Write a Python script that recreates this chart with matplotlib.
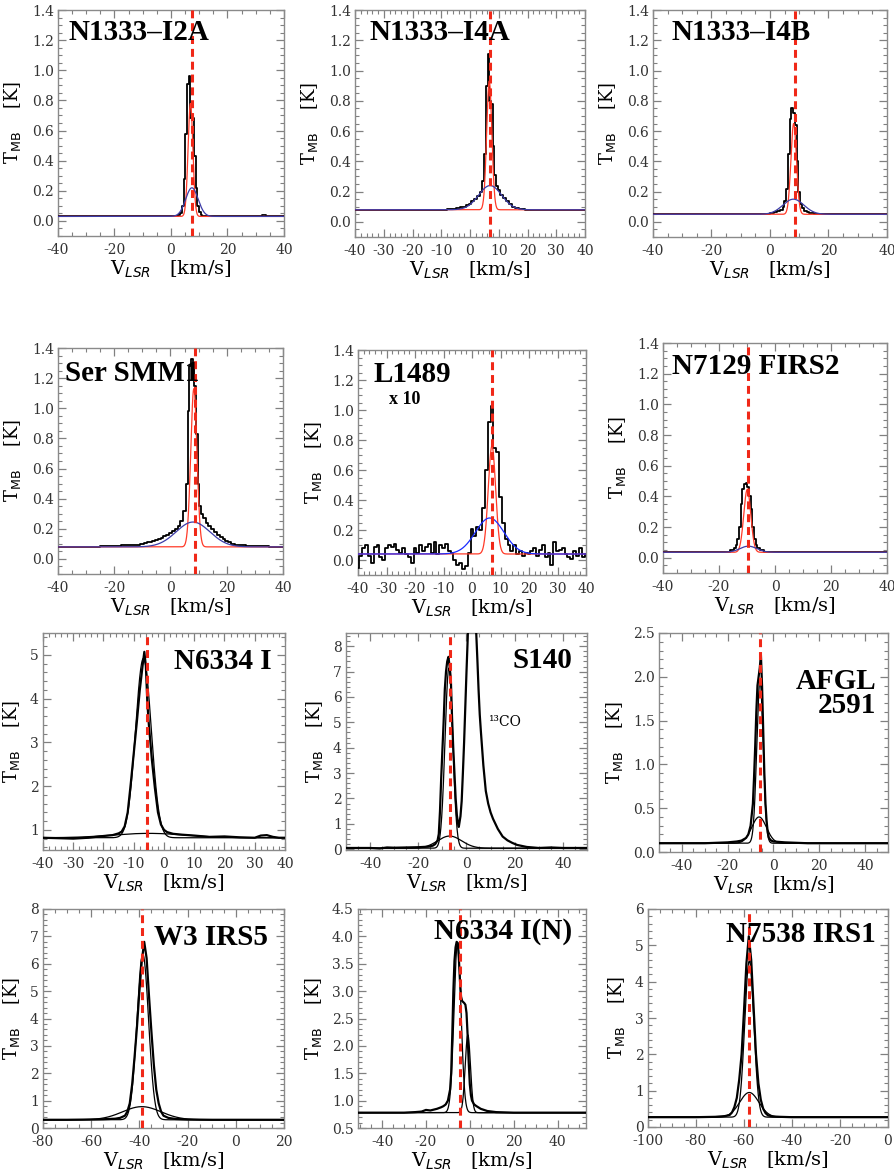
import numpy as np
import matplotlib.pyplot as plt
from matplotlib.ticker import MultipleLocator, AutoMinorLocator, FormatStrFormatter

plt.rcParams.update({
    'font.family': 'DejaVu Serif',
    'axes.unicode_minus': False,
    'mathtext.fontset': 'custom',
    'mathtext.rm': 'DejaVu Serif',
    'mathtext.it': 'DejaVu Sans:italic',
    'mathtext.sf': 'DejaVu Sans',
    'mathtext.bf': 'DejaVu Serif:bold',
})

# ---- spectra (velocity [km/s], T_MB [K]) ----
i2a_v = [-40, 2.0, 3.0, 3.6, 4.2, 4.8, 5.4, 6.0, 6.6, 7.2, 7.8, 8.4, 9.0, 9.6, 10.2, 10.8, 11.4, 12.5, 30, 31.5, 33, 34.5, 40]
i2a_t = [0.03, 0.03, 0.04, 0.05, 0.1, 0.28, 0.58, 0.91, 0.96, 0.68, 0.68, 0.43, 0.22, 0.1, 0.06, 0.04, 0.035, 0.03, 0.03, 0.035, 0.04, 0.03, 0.03]

i4a_v = [-40, -10, -6, -4, -3, -2, -1, 0, 1, 2, 3, 4, 4.6, 5.2, 5.8, 6.4, 7.0, 7.6, 8.2, 8.8, 9.4,
         10, 11, 12, 13, 14, 15, 16, 18, 20, 40]
i4a_t = [0.08, 0.08, 0.085, 0.09, 0.095, 0.1, 0.11, 0.12, 0.135, 0.15, 0.17, 0.2, 0.27, 0.45, 0.9, 1.11, 0.8, 0.78, 0.5, 0.31, 0.24,
         0.21, 0.18, 0.155, 0.135, 0.115, 0.1, 0.09, 0.085, 0.08, 0.08]

i4b_v = [-40, -5, -1, 1, 2, 3, 4, 4.6, 5.2, 5.8, 6.4, 7.0, 7.6, 8.2, 8.8, 9.4, 10.0, 10.6, 11.2, 12, 13, 14, 16, 19, 40]
i4b_t = [0.05, 0.05, 0.055, 0.06, 0.065, 0.07, 0.08, 0.1, 0.14, 0.22, 0.45, 0.68, 0.75, 0.72, 0.64, 0.4, 0.2, 0.12, 0.09, 0.075, 0.065, 0.06, 0.055, 0.05, 0.05]

ser_v = [-40, -30, -20, -15, -12, -10, -9, -8, -7, -6, -5, -4, -3, -2, -1, 0, 1, 2, 3, 4,
         5.2, 5.8, 6.4, 7.0, 7.6, 8.2, 8.8, 9.4, 10.0, 10.6, 11.2,
         12, 13, 14, 15, 16, 17, 18, 19, 20, 21, 22, 24, 26, 28, 30, 40]
ser_t = [0.08, 0.08, 0.085, 0.09, 0.095, 0.1, 0.105, 0.11, 0.115, 0.12, 0.125, 0.13, 0.14, 0.15, 0.16, 0.17, 0.185, 0.2, 0.22, 0.25,
         0.32, 0.5, 0.98, 1.28, 1.33, 1.3, 1.15, 0.83, 0.5, 0.35, 0.3,
         0.27, 0.24, 0.22, 0.2, 0.18, 0.16, 0.145, 0.13, 0.12, 0.11, 0.1, 0.095, 0.09, 0.085, 0.085, 0.08]

l1489_v = list(range(-40, 41))
l1489_t = [-0.05, 0.03, 0.08, 0.1, 0.03, -0.02, 0.09, 0.1, 0.02, 0.0,
           0.08, 0.1, 0.09, 0.11, 0.07, 0.05, 0.08, 0.04, 0.02, -0.02,
           0.08, 0.05, 0.1, 0.06, 0.09, 0.11, 0.05, 0.12, 0.04, 0.1,
           0.08, 0.11, 0.06, 0.05, 0.0, -0.03, -0.02, -0.06, -0.04, 0.05,
           0.21, 0.16, 0.22, 0.2, 0.35, 0.6, 0.92, 1.03, 0.75, 0.72,
           0.42, 0.25, 0.14, 0.1, 0.06, 0.1, 0.04, 0.06, 0.03, 0.05,
           0.04, 0.06, 0.08, 0.03, 0.07, 0.1, 0.02, 0.05, -0.03, 0.12,
           0.06, 0.07, 0.08, 0.04, 0.02, 0.01, 0.06, 0.03, 0.08, 0.02, 0.04]

n7129_v = [-40, -20, -17, -15, -14.4, -13.8, -13.2, -12.6, -12.0, -11.4, -10.8, -10.2, -9.6, -9.0, -8.4, -7.8, -7.2, -6.6, -6.0, -5, -3, 0, 40]
n7129_t = [0.035, 0.035, 0.04, 0.05, 0.06, 0.08, 0.12, 0.2, 0.35, 0.45, 0.48, 0.49, 0.46, 0.4, 0.32, 0.2, 0.12, 0.08, 0.06, 0.05, 0.04, 0.035, 0.035]

n6334_v = [-40, -35, -30, -25, -20, -17, -15, -14, -13, -12, -11, -10, -9, -8, -7, -6.5, -6, -5.5, -5, -4,
           -3, -2, -1, 0, 1, 3, 6, 10, 15, 20, 25, 30, 32, 34, 36, 38, 40]
n6334_t = [0.82, 0.81, 0.8, 0.82, 0.86, 0.88, 0.92, 0.96, 1.08, 1.4, 2.05, 2.75, 3.45, 4.2, 4.8, 5.07, 4.75, 3.9, 3.4, 2.6,
           1.95, 1.4, 1.12, 1.0, 0.95, 0.91, 0.89, 0.87, 0.84, 0.85, 0.83, 0.82, 0.87, 0.88, 0.84, 0.82, 0.82]

s140_v = [-50, -40, -36, -33, -30, -25, -20, -16, -14, -13,
          -12, -11.5, -11, -10.5, -10, -9.5, -9, -8.5, -8, -7.5,
          -7, -6.5, -6, -5.5, -5, -4.5, -4, -3.5, -3.2, -2.5,
          -2, -1.5, -1, -0.5, 0, 0.5, 1, 2, 3, 4,
          4.5, 5, 5.5, 6, 7, 8, 9, 10, 11, 12,
          13, 15, 17, 19, 21, 25, 30, 35, 40, 50]
s140_t = [0.05, 0.05, 0.03, 0.07, 0.06, 0.07, 0.08, 0.1, 0.14, 0.2,
          0.35, 0.6, 1.5, 2.8, 3.9, 5.0, 6.3, 7.0, 7.4, 7.58,
          7.2, 6.7, 5.2, 4.0, 3.0, 2.0, 1.35, 1.0, 0.88, 1.3,
          1.9, 3.0, 4.2, 5.6, 7.0, 8.3, 10.0, 11.0, 10.5, 8.6,
          7.5, 6.3, 5.3, 4.6, 3.3, 2.3, 1.8, 1.45, 1.2, 1.0,
          0.8, 0.5, 0.35, 0.25, 0.17, 0.09, 0.05, 0.07, 0.05, 0.05]

afgl_v = [-50, -40, -30, -20, -16, -14, -12, -11, -10, -9, -8.5, -8, -7.5, -7, -6.5, -6, -5.5, -5, -4.5, -4,
          -3.5, -3, -2.5, -2, -1, 0, 5, 15, 30, 50]
afgl_t = [0.1, 0.1, 0.1, 0.11, 0.12, 0.13, 0.16, 0.2, 0.3, 0.55, 0.85, 1.2, 1.6, 1.9, 2.0, 2.1, 2.25, 1.9, 1.4, 0.9,
          0.55, 0.35, 0.22, 0.16, 0.13, 0.12, 0.11, 0.1, 0.1, 0.1]

w3_v = [-80, -70, -60, -55, -50, -48, -46, -45, -44, -43, -42, -41, -40, -39, -38, -37, -36, -35, -34, -33,
        -32, -31, -30, -28, -25, -20, -10, 0, 10, 20]
w3_t = [0.3, 0.3, 0.31, 0.32, 0.34, 0.37, 0.45, 0.6, 0.9, 1.6, 2.6, 3.7, 5.0, 6.1, 6.8, 6.2, 4.8, 3.5, 2.3, 1.4,
        0.9, 0.6, 0.45, 0.37, 0.33, 0.31, 0.3, 0.3, 0.3, 0.3]

n6334n_v = [-51, -40, -30, -25, -22, -20, -18, -15, -13, -12, -11, -10, -9, -8.5, -8, -7.5, -7, -6.5, -6, -5.5,
            -5, -4.5, -4, -3.5, -3, -2.5, -2, -1.5, -1, -0.5, 0, 0.5, 1, 2, 3, 5, 8, 12, 20, 35, 53]
n6334n_t = [0.78, 0.78, 0.78, 0.79, 0.8, 0.83, 0.82, 0.85, 0.88, 0.9, 0.93, 1.0, 1.2, 1.5, 2.2, 3.0, 3.55, 3.8, 3.9, 3.88,
            3.6, 3.2, 2.9, 2.82, 2.8, 2.78, 2.75, 2.6, 2.2, 1.7, 1.3, 1.1, 1.0, 0.93, 0.9, 0.85, 0.81, 0.79, 0.78, 0.78, 0.78]

n7538_v = [-100, -90, -80, -72, -68, -66, -65, -64, -63, -62, -61, -60, -59, -58, -57, -56, -55, -54, -53, -52,
           -51, -50, -48, -45, -40, -30, -20, -10, 0]
n7538_t = [0.27, 0.27, 0.27, 0.28, 0.3, 0.33, 0.4, 0.55, 0.8, 1.3, 2.0, 3.2, 4.5, 5.25, 4.6, 3.3, 2.0, 1.2, 0.75, 0.5,
           0.38, 0.32, 0.29, 0.28, 0.27, 0.27, 0.27, 0.27, 0.27]

# ---- gaussian fit components: (amplitude, centre, sigma) on top of baseline ----
i2a_fit = [(0.75, 6.9, 0.85), (0.19, 7.4, 2.2)]
i4a_fit = [(0.85, 6.7, 0.9), (0.16, 7.0, 4.0)]
i4b_fit = [(0.60, 8.1, 0.95), (0.10, 8.0, 3.6)]
ser_fit = [(1.05, 8.3, 1.1), (0.165, 8.0, 6.0)]
l1489_fit = [(0.72, 7.0, 1.3), (0.24, 6.2, 5.0)]
n7129_fit = [(0.41, -9.9, 1.25), (0.04, -9.5, 3.0)]
n6334_fit = [(4.1, -6.8, 2.6), (0.10, -5.0, 12.0)]
s140_fit = [(7.1, -7.3, 1.6), (0.48, -7.0, 5.0)]
afgl_fit = [(1.85, -5.9, 1.4), (0.30, -6.3, 3.2)]
w3_fit = [(6.05, -38.6, 2.4), (0.48, -39.0, 8.0)]
n6334n_fit = [(3.1, -5.6, 1.6), (1.42, -0.9, 1.2)]
n7538_fit = [(4.3, -57.8, 1.9), (0.68, -57.8, 4.0)]

names = ['N1333\u2013I2A', 'N1333\u2013I4A', 'N1333\u2013I4B', 'Ser SMM1', 'L1489', 'N7129 FIRS2',
         'N6334 I', 'S140', 'AFGL\n2591', 'W3 IRS5', 'N6334 I(N)', 'N7538 IRS1']
baselines = [0.03, 0.08, 0.05, 0.08, 0.04, 0.035, 0.82, 0.04, 0.1, 0.3, 0.78, 0.27]
vsys = [7.5, 7.0, 8.7, 8.6, 7.1, -9.7, -5.5, -6.7, -6.0, -38.9, -4.5, -57.8]

red, navy, blue = '#ff3a28', '#3c3ca8', '#1a2cff'

panels = [
    # spectrum, fits, fit colours, xlim, xstep, ylim, ystep, yfmt, steps, box(px), name pos, align
    (i2a_v, i2a_t, i2a_fit, [red, navy], (-40, 40), 20, (-0.1, 1.4), 0.2, '%.1f', True, (58, 284, 10, 236), (0.045, 0.90), 'left'),
    (i4a_v, i4a_t, i4a_fit, [red, navy], (-40, 40), 10, (-0.1, 1.4), 0.2, '%.1f', True, (355, 585, 10, 237), (0.065, 0.90), 'left'),
    (i4b_v, i4b_t, i4b_fit, [red, navy], (-40, 40), 20, (-0.1, 1.4), 0.2, '%.1f', True, (653, 887, 10, 237), (0.08, 0.90), 'left'),
    (ser_v, ser_t, ser_fit, [red, navy], (-40, 40), 20, (-0.1, 1.4), 0.2, '%.1f', True, (58, 283, 348, 574), (0.03, 0.885), 'left'),
    (l1489_v, l1489_t, l1489_fit, [red, blue], (-40, 40), 10, (-0.1, 1.4), 0.2, '%.1f', True, (358, 586, 350, 575), (0.066, 0.89), 'left'),
    (n7129_v, n7129_t, n7129_fit, [red, navy], (-40, 40), 20, (-0.1, 1.4), 0.2, '%.1f', True, (663, 887, 343, 573), (0.04, 0.90), 'left'),
    (n6334_v, n6334_t, n6334_fit, ['k', 'k'], (-40, 40), 10, (0.54, 5.5), 1, '%d', False, (43, 285, 633, 850), (0.946, 0.87), 'right'),
    (s140_v, s140_t, s140_fit, ['k', 'k'], (-50, 50), 20, (-0.03, 8.52), 1, '%d', False, (346, 587, 633, 850), (0.94, 0.875), 'right'),
    (afgl_v, afgl_t, afgl_fit, ['k', 'k'], (-50, 50), 20, (0.0, 2.5), 0.5, '%.1f', False, (659, 888, 633, 852), (0.95, 0.84), 'right'),
    (w3_v, w3_t, w3_fit, ['k', 'k'], (-80, 20), 20, (0, 8), 1, '%d', False, (43, 284, 909, 1128), (0.934, 0.87), 'right'),
    (n6334n_v, n6334n_t, n6334n_fit, ['k', 'k'], (-51, 53), 20, (0.5, 4.5), 0.5, '%.1f', False, (358, 586, 909, 1128), (0.94, 0.895), 'right'),
    (n7538_v, n7538_t, n7538_fit, ['k', 'k'], (-100, 0), 20, (0, 6), 1, '%d', False, (648, 888, 909, 1127), (0.95, 0.885), 'right'),
]

W, H = 895, 1173
fig = plt.figure(figsize=(W / 100, H / 100), dpi=100)


def gauss(v, base, amp, cen, sig):
    return base + amp * np.exp(-0.5 * ((v - cen) / sig) ** 2)


for i, p in enumerate(panels):
    v, t, fits, fcols, xl, xs, yl, ys, yfmt, steps, bx, npos, ha = p
    x0, x1, y0, y1 = bx
    ax = fig.add_axes([x0 / W, 1 - y1 / H, (x1 - x0) / W, (y1 - y0) / H])

    ax.plot(v, t, color='k', lw=1.3 if steps else 1.6,
            drawstyle='steps-mid' if steps else 'default', zorder=3)
    vf = np.linspace(xl[0], xl[1], 1200)
    for (amp, cen, sig), c in zip(fits, fcols):
        ax.plot(vf, gauss(vf, baselines[i], amp, cen, sig), color=c, lw=0.9, zorder=4)
    ax.axvline(vsys[i], color='#f02818', lw=2.2, ls=(0, (2.6, 1.6)), zorder=5)

    ax.set_xlim(*xl)
    ax.set_ylim(*yl)
    ax.xaxis.set_major_locator(MultipleLocator(xs))
    ax.yaxis.set_major_locator(MultipleLocator(ys))
    ax.xaxis.set_minor_locator(AutoMinorLocator())
    ax.yaxis.set_minor_locator(AutoMinorLocator())
    ax.yaxis.set_major_formatter(FormatStrFormatter(yfmt))
    ax.tick_params(which='both', direction='in', top=True, right=True,
                   colors='#808080', labelcolor='#333333', labelsize=10)
    ax.tick_params(which='major', length=6, width=0.9)
    ax.tick_params(which='minor', length=3, width=0.8)
    ax.tick_params(axis='x', pad=5)
    ax.tick_params(axis='y', pad=3)
    for s in ax.spines.values():
        s.set_color('#8a8a8a')
        s.set_linewidth(1.0)

    ax.set_xlabel('V$_{\\mathit{LSR}}$   [km/s]', fontsize=14, labelpad=1)
    ax.set_ylabel('T$_{\\mathsf{MB}}$    [K]', fontsize=13, labelpad=6)

    ax.text(npos[0], npos[1], names[i], transform=ax.transAxes, ha=ha,
            va='top' if '\n' in names[i] else 'center', family='Liberation Serif',
            fontweight='bold', fontsize=21, linespacing=0.85, zorder=6)

    if names[i] == 'L1489':
        ax.text(0.136, 0.78, 'x 10', transform=ax.transAxes, family='Liberation Serif',
                fontweight='bold', fontsize=13, va='center')
    if names[i] == 'S140':
        ax.text(9.5, 5.0, '\u00b9\u00b3CO', fontsize=10, family='DejaVu Serif', va='center')

fig.savefig('out.png', dpi=100)
